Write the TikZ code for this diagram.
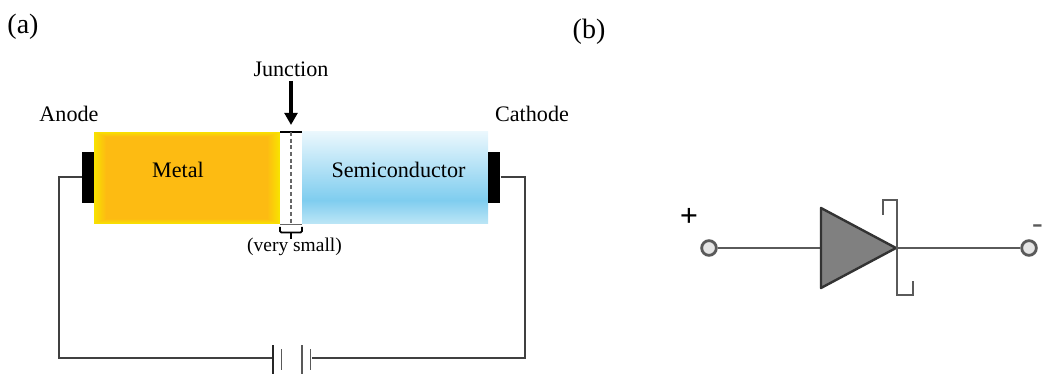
\documentclass[tikz,border=0pt]{standalone}
\usepackage{fontspec}
\setmainfont{Liberation Serif}
\usetikzlibrary{arrows.meta}
\definecolor{metalyellow}{HTML}{F8E200}
\definecolor{metalorange}{HTML}{FDBB12}
\definecolor{diodegray}{HTML}{5A5A5A}
\definecolor{semilow}{HTML}{BDE6F6}
\definecolor{semimid}{HTML}{7FCDEF}
\definecolor{semitop}{HTML}{EAF7FD}
\pgfdeclareverticalshading{semishade}{100bp}{color(0bp)=(semilow);color(25bp)=(semilow);color(38bp)=(semimid);color(75bp)=(semitop);color(100bp)=(semitop)}
\tikzset{
  label text/.style={font=\fontsize{16.6}{18}\selectfont,inner sep=0pt},
  part label/.style={font=\fontsize{21}{24}\selectfont,inner sep=0pt},
  pad/.style={fill=black,inner sep=0pt,minimum width=9.4pt,minimum height=38.2pt},
  wire/.style={line width=0.8pt,black!75},
  plate/.style={fill=black!85,inner sep=0pt,minimum width=#1},
  long plate/.style={plate=1.5pt,minimum height=22pt},
  short plate/.style={plate=1.1pt,fill=black!65,minimum height=16pt},
  dwire/.style={line width=2.1pt,diodegray},
  terminal/.style={circle,draw=diodegray,fill=black!10,line width=2.1pt,inner sep=0pt,minimum size=11pt}
}
\begin{document}
\begin{tikzpicture}[x=0.75pt,y=-0.75pt]
\useasboundingbox (0,0) rectangle (1043,374);
% part (a)
\node[part label] (parta) at (23,27) {(a)};
\node[inner sep=0pt,minimum width=139.5pt,minimum height=69pt,fill=metalyellow] (metal) at (187,178) {};
\foreach \i in {1,...,12}
  \fill[metalorange!\the\numexpr \i*100/12\relax!metalyellow] (94+\i,132+0.4*\i) rectangle (280-\i,224-0.4*\i);
\node[inner sep=0pt,minimum width=139.5pt,minimum height=69pt,shading=semishade] (semi) at (395,178) {};
\node[label text] (metaltext) at (178,170) {Metal};
\node[label text] (semitext) at (398.5,170) {Semiconductor};
\node[label text] (anode) at (69,114) {Anode};
\node[label text] (cathode) at (532,114) {Cathode};
\node[label text] (junction) at (291,69) {Junction};
\node[font=\fontsize{14.6}{16}\selectfont,inner sep=0pt] (small) at (294.5,247) {(very small)};
\node[pad] (leftpad) at (88.2,177.5) {};
\node[pad] (rightpad) at (494,177.5) {};
% junction gap
\coordinate (gaptl) at (280,132);
\coordinate (gaptr) at (302,132);
\coordinate (gapbl) at (280,224);
\coordinate (gapbr) at (302,224);
\draw[line width=0.8pt] (gaptl) -- (gaptr);
\draw[line width=0.6pt,black!60] (gapbl) -- (gapbr);
\draw[densely dashed,line width=1pt,black!60] (291,132) -- (291,224);
\draw[-{Triangle[length=9pt,width=9.5pt]},line width=3pt] (291,81) -- (291,125);
\draw[line width=1.4pt,rounded corners=1pt] (280,227) -- (280,232.5) -- (302,232.5) -- (302,227);
\draw[line width=1.4pt] (291,232.5) -- (291,239);
% battery
\node[long plate] (plateone) at (273,359.5) {};
\node[short plate] (platetwo) at (281.5,359.5) {};
\node[long plate,fill=black!65] (platethree) at (302,359.5) {};
\node[short plate] (platefour) at (310.5,359.5) {};
\coordinate (cornerlt) at (59,177);
\coordinate (cornerlb) at (59,358);
\coordinate (cornerrt) at (525,177);
\coordinate (cornerrb) at (525,358);
\draw[wire] (leftpad.west |- cornerlt) -- (cornerlt) -- (cornerlb) -- (plateone.west |- cornerlb);
\draw[wire] (rightpad.east |- cornerrt) -- (cornerrt) -- (cornerrb) -- (platefour.east |- cornerrb);
% part (b)
\node[part label] (partb) at (589,32) {(b)};
\node[font=\fontsize{24}{24}\selectfont\bfseries,inner sep=0pt] (plus) at (689,217) {+};
\node[font=\fontsize{24}{24}\selectfont,text=diodegray,inner sep=0pt] (minus) at (1037.5,229) {-};
\node[terminal] (termleft) at (709,248) {};
\node[terminal] (termright) at (1029,248) {};
\coordinate (triback) at (821,248);
\coordinate (tritip) at (896,248);
\draw[dwire] (termleft) -- (triback);
\draw[dwire] (tritip) -- (termright);
\draw[line width=1.8pt,fill=black!50,draw=black!80,line join=round] (821,208) -- (tritip) -- (821,288) -- cycle;
\draw[dwire] (883,215) -- (883,200) -- (897,200) -- (897,295) -- (913,295) -- (913,281);
\end{tikzpicture}
\end{document}
